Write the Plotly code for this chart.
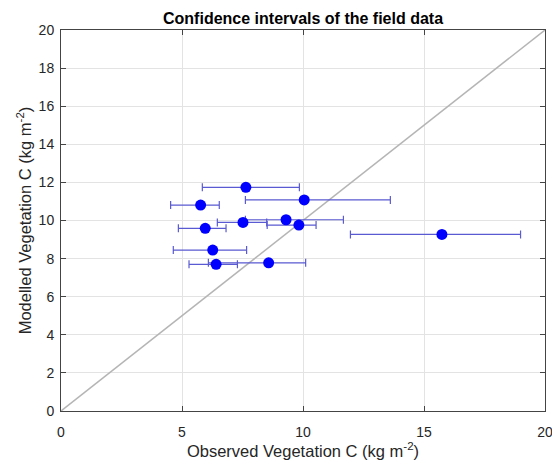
import plotly.graph_objects as go

# Observed (x) vs modelled (y) vegetation C, with confidence interval bounds on x
obs = [7.64, 10.05, 5.77, 7.52, 9.30, 9.83, 5.96, 6.27, 8.58, 6.41, 15.74]
mod = [11.74, 11.08, 10.81, 9.90, 10.04, 9.76, 9.59, 8.45, 7.78, 7.70, 9.27]
ci_low = [5.84, 7.62, 4.53, 6.46, 7.62, 8.52, 4.85, 4.64, 6.09, 5.29, 11.96]
ci_high = [9.85, 13.61, 6.54, 8.50, 11.67, 10.54, 6.82, 7.67, 10.11, 7.29, 18.99]
one_to_one = [0, 20]
ticks_x = [0, 5, 10, 15, 20]
ticks_y = [0, 2, 4, 6, 8, 10, 12, 14, 16, 18, 20]

plus = [h - v for h, v in zip(ci_high, obs)]
minus = [v - l for l, v in zip(ci_low, obs)]

fig = go.Figure()
fig.add_trace(go.Scatter(
    x=one_to_one, y=one_to_one, mode="lines",
    line=dict(color="#b5b5b5", width=1.5), hoverinfo="skip", showlegend=False))
fig.add_trace(go.Scatter(
    x=obs, y=mod, mode="markers",
    marker=dict(color="#0000ff", size=11, line=dict(width=0)),
    error_x=dict(type="data", symmetric=False, array=plus, arrayminus=minus,
                 color="#5a5ad2", thickness=1.2, width=4),
    showlegend=False, cliponaxis=False))

font = "Liberation Sans, Arial, Helvetica, sans-serif"
axis_common = dict(
    showline=True, linecolor="#444444", linewidth=1, mirror="ticks",
    ticks="inside", ticklen=5, tickcolor="#444444", automargin=False,
    showgrid=True, gridcolor="#e3e3e3", gridwidth=1, zeroline=False,
    tickfont=dict(family=font, size=14, color="#262626"),
)
fig.update_layout(
    width=552, height=465,
    margin=dict(l=61, r=7, t=30, b=54),
    paper_bgcolor="white", plot_bgcolor="white",
    font=dict(family=font, color="#262626"),
    title=dict(text="<b>Confidence intervals of the field data</b>",
               x=0.549, xanchor="center",
               y=1 - 18 / 465, yanchor="middle",
               font=dict(family=font, size=16, color="#000000")),
    xaxis=dict(range=[0, 20], tickvals=ticks_x, ticklabeloverflow="allow",
               ticklabelstandoff=8,
               title=dict(text="Observed Vegetation C (kg m<sup>-2</sup>)",
                          font=dict(family=font, size=16.5, color="#262626"), standoff=3),
               **axis_common),
    yaxis=dict(range=[0, 20], tickvals=ticks_y, ticklabelstandoff=3,
               title=dict(text="Modelled Vegetation C (kg m<sup>-2</sup>)",
                          font=dict(family=font, size=16.5, color="#262626"), standoff=2),
               **axis_common),
)
fig.write_html("out.html")
